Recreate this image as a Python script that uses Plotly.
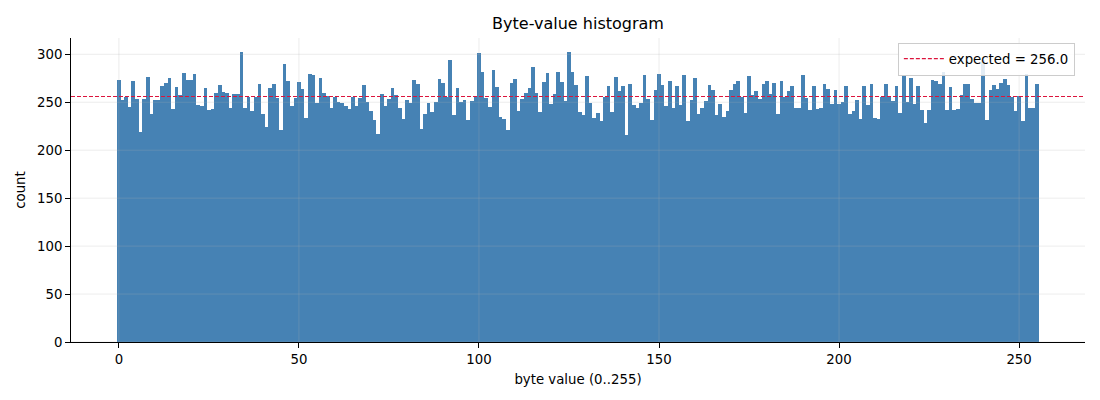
import plotly.graph_objects as go

# byte histogram counts, one per byte value 0..255
byte_values = list(range(256))
counts = [
    273, 252, 256, 245, 272, 253, 219, 253, 276, 238,   # 0-9
    252, 252, 267, 270, 275, 243, 266, 258, 280, 273,   # 10-19
    273, 279, 247, 246, 265, 242, 243, 260, 268, 261,   # 20-29
    260, 244, 259, 259, 302, 244, 256, 241, 256, 269,   # 30-39
    238, 224, 265, 269, 254, 221, 290, 272, 246, 254,   # 40-49
    271, 264, 234, 279, 278, 249, 275, 260, 257, 244,   # 50-59
    255, 250, 249, 246, 243, 256, 246, 254, 268, 250,   # 60-69
    241, 232, 217, 259, 246, 253, 265, 258, 244, 233,   # 70-79
    252, 249, 273, 269, 222, 238, 249, 240, 250, 274,   # 80-89
    270, 256, 294, 237, 265, 250, 252, 232, 251, 257,   # 90-99
    301, 282, 254, 245, 284, 266, 235, 233, 221, 270,   # 100-109
    274, 241, 253, 260, 265, 287, 260, 240, 271, 280,   # 110-119
    248, 259, 282, 271, 251, 302, 282, 268, 240, 237,   # 120-129
    277, 249, 234, 239, 230, 255, 267, 240, 276, 262,   # 130-139
    267, 216, 269, 247, 244, 249, 278, 253, 232, 263,   # 140-149
    279, 268, 246, 272, 244, 267, 247, 278, 230, 252,   # 150-159
    275, 238, 244, 251, 268, 263, 237, 248, 235, 241,   # 160-169
    263, 269, 272, 256, 239, 277, 258, 262, 253, 269,   # 170-179
    272, 259, 270, 238, 272, 255, 262, 267, 244, 244,   # 180-189
    278, 254, 242, 267, 243, 244, 269, 264, 248, 263,   # 190-199
    248, 250, 267, 238, 241, 252, 233, 267, 247, 269,   # 200-209
    234, 233, 256, 269, 256, 251, 267, 239, 278, 250,   # 210-219
    275, 248, 267, 242, 228, 242, 273, 272, 269, 282,   # 220-229
    242, 266, 242, 243, 258, 269, 269, 253, 249, 249,   # 230-239
    294, 232, 263, 268, 264, 270, 274, 268, 256, 241,   # 240-249
    257, 230, 279, 244, 244, 269,                       # 250-255
]
expected = 256.0

x_ticks = [0, 50, 100, 150, 200, 250]
y_ticks = [0, 50, 100, 150, 200, 250, 300]

fig = go.Figure()
fig.add_trace(go.Bar(
    x=byte_values, y=counts, width=1,
    marker=dict(color="steelblue", line=dict(width=0)),
    showlegend=False,
))

grid_color = "rgba(176,176,176,0.3)"
shapes = []
for t in x_ticks:
    shapes.append(dict(type="line", xref="x", yref="paper", x0=t, x1=t, y0=0, y1=1,
                       line=dict(color=grid_color, width=0.8), layer="above"))
for t in y_ticks:
    shapes.append(dict(type="line", xref="paper", yref="y", x0=0, x1=1, y0=t, y1=t,
                       line=dict(color=grid_color, width=0.8), layer="above"))
# expected line (shape that also shows in the legend)
shapes.append(dict(type="line", xref="paper", yref="y", x0=0, x1=1,
                   y0=expected, y1=expected, layer="above",
                   line=dict(color="crimson", width=1.2, dash="4px,2px"),
                   showlegend=True, name=f"expected = {expected}"))

fig.update_layout(
    width=1100, height=400,
    margin=dict(l=71, r=15, t=38, b=58),
    paper_bgcolor="white", plot_bgcolor="white",
    font=dict(family="DejaVu Sans", size=13.3, color="black"),
    title=dict(text="Byte-value histogram", x=0.5, xref="paper", xanchor="center",
               y=0.9425, yanchor="middle", font=dict(size=16)),
    bargap=0,
    shapes=shapes,
    legend=dict(x=0.99, y=0.985, xanchor="right", yanchor="top",
                bgcolor="rgba(255,255,255,0.85)", bordercolor="#cccccc", borderwidth=1,
                font=dict(size=13.3), itemwidth=40),
)
fig.update_xaxes(range=[-13.3, 268.3], tickvals=x_ticks, showgrid=False, zeroline=False,
                 showline=True, linecolor="black", linewidth=0.8, automargin=False,
                 ticks="outside", ticklen=5, tickwidth=0.8, tickcolor="black",
                 tickfont=dict(size=13.3),
                 title=dict(text="byte value (0..255)", standoff=8, font=dict(size=13.3)))
fig.update_yaxes(range=[0, 317], tickvals=y_ticks, showgrid=False, zeroline=False,
                 showline=True, linecolor="black", linewidth=0.8, automargin=False,
                 ticks="outside", ticklen=5, tickwidth=0.8, tickcolor="black",
                 tickfont=dict(size=13.3),
                 title=dict(text="count", standoff=8, font=dict(size=13.3)))

fig.write_html("out.html", config={"displayModeBar": False},
               post_script="document.body.style.margin='0';")
